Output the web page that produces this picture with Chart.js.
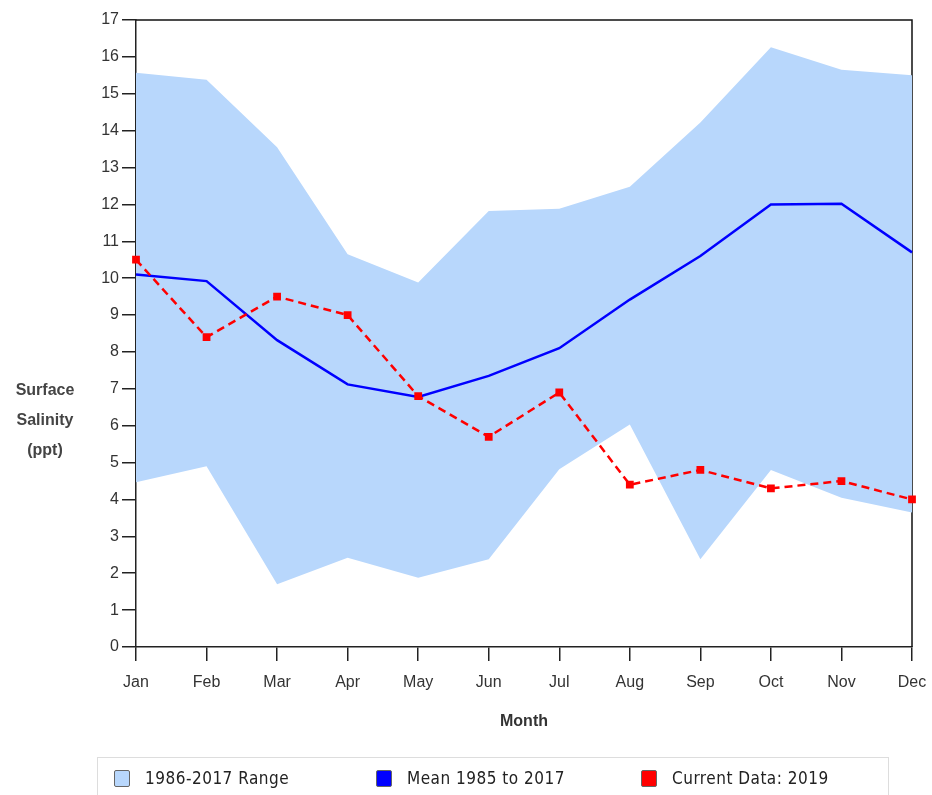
<!DOCTYPE html>
<html>
<head>
<meta charset="utf-8">
<script src="https://cdn.jsdelivr.net/npm/chart.js@4/dist/chart.umd.min.js"></script>
<style>
  body { margin: 0; background: #fff; }
  #wrap { position: relative; width: 932px; height: 795px; overflow: hidden; }
  #legend {
    position: absolute; left: 97px; top: 757px; width: 792px; height: 60px;
    border: 1px solid #ddd; box-sizing: border-box;
    font-family: "DejaVu Sans Condensed", "DejaVu Sans", sans-serif; font-size: 17px; color: #222;
    letter-spacing: 0.5px;
  }
  .item { position: absolute; top: 10px; display: flex; align-items: center; }
  .sw { width: 16px; height: 17px; border: 1px solid #666; border-radius: 2px; box-sizing: border-box; margin-right: 15px; }
</style>
</head>
<body>
<div id="wrap">
  <canvas id="salinityChart" width="932" height="795"></canvas>
  <div id="legend"></div>
</div>
<script>
const months = ['Jan', 'Feb', 'Mar', 'Apr', 'May', 'Jun', 'Jul', 'Aug', 'Sep', 'Oct', 'Nov', 'Dec'];
const rangeMax = [15.57, 15.38, 13.55, 10.65, 9.88, 11.82, 11.88, 12.48, 14.22, 16.26, 15.65, 15.5];
const rangeMin = [4.47, 4.9, 1.7, 2.42, 1.88, 2.38, 4.82, 6.03, 2.38, 4.8, 4.05, 3.65];
const meanSalinity = [10.1, 9.92, 8.32, 7.12, 6.78, 7.35, 8.1, 9.42, 10.6, 12.0, 12.02, 10.7];
const current2019 = [10.5, 8.4, 9.5, 9.0, 6.8, 5.7, 6.9, 4.4, 4.8, 4.3, 4.5, 4.0];
const yTicks = [0, 1, 2, 3, 4, 5, 6, 7, 8, 9, 10, 11, 12, 13, 14, 15, 16, 17];

const rangeColor = '#b8d7fc';

// top and right frame lines, drawn under the data
const framePlugin = {
   id: 'frame',
   beforeDatasetsDraw(chart) {
      const a = chart.chartArea, c = chart.ctx;
      c.save();
      c.strokeStyle = '#111';
      c.lineWidth = 1.5;
      c.beginPath();
      c.moveTo(a.left, a.top);
      c.lineTo(a.right, a.top);
      c.lineTo(a.right, a.bottom);
      c.stroke();
      c.restore();
   }
};

// horizontal y axis title on the left
const yTitlePlugin = {
   id: 'yTitle',
   afterDraw(chart) {
      const c = chart.ctx;
      c.save();
      c.fillStyle = '#444';
      c.font = 'bold 16px "Liberation Sans", Arial, sans-serif';
      c.textAlign = 'center';
      c.textBaseline = 'middle';
      ['Surface', 'Salinity', '(ppt)'].forEach((t, i) => c.fillText(t, 45, 391 + i * 30));
      c.restore();
   }
};

const ctx = document.getElementById('salinityChart').getContext('2d');

const chart = new Chart(ctx, {
   type: 'line',
   data: {
      labels: months,
      datasets: [{
         label: 'Current Data: 2019',
         data: current2019,
         borderColor: '#ff0000',
         backgroundColor: '#ff0000',
         borderWidth: 2.5,
         borderDash: [8, 5],
         pointStyle: 'rect',
         pointRadius: 5.5,
         pointBorderWidth: 0,
         fill: false
      }, {
         label: 'Mean 1985 to 2017',
         data: meanSalinity,
         borderColor: '#0000ff',
         backgroundColor: '#0000ff',
         borderWidth: 2.5,
         pointRadius: 0,
         fill: false
      }, {
         label: '1986-2017 Range',
         data: rangeMax,
         borderColor: rangeColor,
         backgroundColor: rangeColor,
         borderWidth: 0,
         pointRadius: 0,
         fill: '+1'
      }, {
         label: 'range min',
         data: rangeMin,
         borderColor: rangeColor,
         backgroundColor: rangeColor,
         borderWidth: 0,
         pointRadius: 0,
         fill: false
      }]
   },
   options: {
      responsive: false,
      animation: false,
      layout: { padding: { top: 20, right: 20, left: 0, bottom: 60 } },
      plugins: {
         legend: { display: false },
         tooltip: { enabled: false }
      },
      scales: {
         x: {
            offset: false,
            afterFit(scale) {
               scale.height = 88;
               scale.paddingLeft = 0;
               scale.paddingRight = 0;
            },
            grid: { drawOnChartArea: false, drawTicks: true, tickLength: 14, color: '#222', lineWidth: 1.5 },
            border: { display: true, color: '#222', width: 1.5 },
            ticks: { color: '#333', font: { family: '"Liberation Sans", Arial, sans-serif', size: 16 }, padding: 12, maxRotation: 0 },
            title: {
               display: true,
               text: 'Month',
               color: '#333',
               font: { family: '"Liberation Sans", Arial, sans-serif', size: 16, weight: 'bold' },
               padding: { top: 4 }
            }
         },
         y: {
            min: 0,
            max: 17,
            afterFit(scale) { scale.width = 136; },
            afterBuildTicks(scale) { scale.ticks = yTicks.map(v => ({ value: v })); },
            grid: { drawOnChartArea: false, drawTicks: true, tickLength: 14, color: '#222', lineWidth: 1.5 },
            border: { display: true, color: '#222', width: 1.5 },
            ticks: { color: '#333', font: { family: '"Liberation Sans", Arial, sans-serif', size: 16 }, padding: 3 }
         }
      }
   },
   plugins: [framePlugin, yTitlePlugin]
});

// html legend built from the first three datasets
const legendEl = document.getElementById('legend');
const legendX = [16, 278, 543];
[2, 1, 0].forEach((di, i) => {
   const ds = chart.data.datasets[di];
   const item = document.createElement('div');
   item.className = 'item';
   item.style.left = legendX[i] + 'px';
   item.innerHTML = '<span class="sw" style="background:' + ds.backgroundColor + '"></span><span>' + ds.label + '</span>';
   legendEl.appendChild(item);
});
</script>
</body>
</html>
